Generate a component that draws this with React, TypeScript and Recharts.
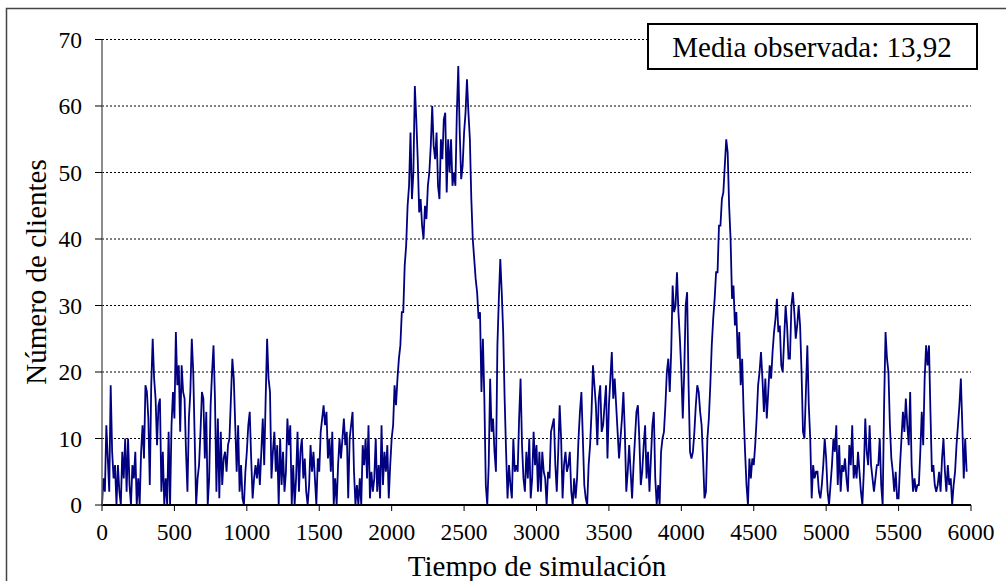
import React from 'react';
import { LineChart, Line, XAxis, YAxis, CartesianGrid, Customized } from 'recharts';

// Simulation time between read samples
const STEP = 10;

// Number of clients, every 10 time units
const clientes0000a0990 = [
  0, 4, 2, 12, 7, 2, 18, 8, 4, 6,
  0, 6, 2, 0, 8, 4, 10, 2, 10, 3,
  0, 6, 4, 8, 0, 4, 0, 8, 12, 7,
  18, 17, 13, 3, 18, 25, 19, 16, 9, 15,
  16, 2, 8, 0, 4, 0, 11, 0, 12, 17,
  13, 26, 18, 21, 11, 21, 17, 16, 8, 2,
  13, 17, 25, 20, 10, 0, 4, 6, 11, 17,
  16, 7, 14, 0, 4, 15, 20, 24, 16, 2,
  13, 1, 11, 3, 7, 8, 5, 9, 10, 16,
  22, 19, 12, 5, 12, 2, 6, 1, 0, 5,
];
const clientes1000a1990 = [
  8, 12, 14, 7, 1, 4, 6, 4, 7, 3,
  8, 13, 6, 16, 25, 19, 17, 4, 8, 11,
  5, 9, 0, 10, 3, 8, 2, 5, 13, 9,
  12, 0, 6, 0, 4, 11, 2, 8, 10, 4,
  7, 2, 0, 3, 9, 5, 8, 4, 0, 7,
  5, 11, 13, 15, 12, 14, 7, 10, 5, 11,
  0, 4, 0, 6, 10, 7, 10, 13, 9, 11,
  1, 10, 12, 14, 5, 0, 3, 0, 4, 0,
  9, 6, 10, 4, 12, 1, 5, 2, 4, 10,
  2, 6, 1, 12, 3, 8, 5, 9, 1, 6,
];
const clientes2000a2990 = [
  10, 12, 18, 15, 19, 22, 24, 29, 29, 36,
  39, 45, 48, 56, 46, 50, 63, 58, 52, 44,
  46, 42, 40, 45, 43, 48, 50, 54, 60, 54,
  52, 56, 48, 46, 55, 52, 58, 59, 47, 55,
  50, 55, 48, 50, 48, 59, 66, 56, 49, 51,
  56, 59, 64, 59, 55, 46, 40, 37, 34, 32,
  28, 29, 17, 25, 16, 3, 0, 6, 19, 11,
  13, 8, 5, 24, 31, 37, 32, 26, 16, 8,
  1, 6, 3, 1, 10, 5, 6, 5, 13, 19,
  9, 4, 2, 8, 4, 10, 1, 4, 11, 6,
];
const clientes3000a3990 = [
  9, 2, 8, 2, 8, 5, 4, 0, 5, 4,
  11, 12, 13, 6, 2, 8, 15, 10, 1, 6,
  8, 5, 6, 8, 2, 0, 4, 1, 4, 10,
  14, 17, 10, 3, 1, 0, 6, 9, 14, 21,
  18, 15, 9, 16, 18, 11, 12, 15, 18, 7,
  15, 19, 23, 16, 19, 15, 11, 7, 10, 13,
  17, 11, 2, 5, 9, 5, 1, 6, 10, 14,
  15, 10, 3, 5, 9, 12, 4, 8, 2, 7,
  12, 14, 4, 0, 3, 0, 8, 10, 11, 15,
  20, 22, 17, 23, 33, 29, 30, 35, 29, 25,
];
const clientes4000a4990 = [
  20, 13, 20, 30, 32, 18, 8, 7, 8, 11,
  15, 18, 17, 14, 12, 7, 1, 2, 10, 13,
  18, 24, 28, 31, 35, 35, 42, 42, 46, 47,
  51, 55, 53, 45, 40, 31, 33, 27, 29, 22,
  26, 18, 22, 14, 8, 3, 0, 7, 4, 7,
  6, 9, 13, 18, 20, 23, 19, 14, 19, 13,
  17, 21, 19, 23, 26, 28, 31, 26, 27, 21,
  20, 25, 30, 27, 22, 22, 30, 32, 29, 25,
  27, 30, 27, 20, 11, 10, 17, 24, 15, 10,
  1, 6, 4, 5, 5, 2, 1, 3, 6, 10,
];
const clientes5000a5970 = [
  7, 2, 0, 3, 6, 10, 8, 12, 3, 9,
  2, 6, 5, 7, 4, 2, 9, 6, 12, 4,
  6, 4, 8, 5, 2, 0, 5, 13, 8, 6,
  12, 6, 4, 2, 4, 6, 6, 10, 3, 0,
  15, 26, 22, 20, 12, 7, 5, 2, 5, 1,
  1, 6, 10, 14, 11, 16, 12, 9, 17, 6,
  2, 4, 2, 3, 3, 8, 14, 9, 19, 24,
  21, 24, 14, 5, 6, 3, 2, 3, 5, 2,
  7, 10, 5, 2, 6, 3, 4, 0, 3, 5,
  9, 12, 15, 19, 12, 4, 10, 5,
];

const xTicks = [0, 500, 1000, 1500, 2000, 2500, 3000, 3500, 4000, 4500, 5000, 5500, 6000];
const yTicks = [0, 10, 20, 30, 40, 50, 60, 70];

const clientes = [
  ...clientes0000a0990,
  ...clientes1000a1990,
  ...clientes2000a2990,
  ...clientes3000a3990,
  ...clientes4000a4990,
  ...clientes5000a5970,
];
const data = clientes.map((v, i) => ({ tiempo: i * STEP, clientes: v }));

const FONT = '"Liberation Serif", "Times New Roman", serif';

const Decor = () => (
  <g>
    <rect x={6.5} y={8.5} width={1200} height={800} fill="none" stroke="#444" strokeWidth={1.5} />
    <text x={537} y={576} textAnchor="middle" fontFamily={FONT} fontSize={29} fill="#000">
      Tiempo de simulación
    </text>
    <text
      x={0}
      y={0}
      transform="translate(46 272) rotate(-90)"
      textAnchor="middle"
      fontFamily={FONT}
      fontSize={29}
      fill="#000"
    >
      Número de clientes
    </text>
    <rect x={648} y={24} width={329} height={45} fill="#fff" stroke="#000" strokeWidth={2} />
    <text x={812} y={57} textAnchor="middle" fontFamily={FONT} fontSize={29} fill="#000">
      Media observada: 13,92
    </text>
  </g>
);

export default function App() {
  return (
    <div style={{ position: 'absolute', left: 0, top: 0, width: 1006, height: 581, background: '#fff', overflow: 'hidden' }}>
      <LineChart
        width={1006}
        height={581}
        data={data}
        margin={{ top: 39.5, right: 35, bottom: 46, left: 42 }}
      >
        <CartesianGrid vertical={false} stroke="#000" strokeDasharray="2 2" />
        <XAxis
          type="number"
          dataKey="tiempo"
          domain={[0, 6000]}
          ticks={xTicks}
          interval={0}
          height={30}
          tickSize={6}
          tickMargin={12}
          axisLine={{ stroke: '#000', strokeWidth: 2 }}
          tickLine={{ stroke: '#000' }}
          tick={{ fill: '#000', fontSize: 23.5, fontFamily: FONT }}
        />
        <YAxis
          type="number"
          domain={[0, 70]}
          ticks={yTicks}
          interval={0}
          width={60}
          tickSize={7}
          tickMargin={13}
          axisLine={{ stroke: '#666', strokeWidth: 1.5 }}
          tickLine={{ stroke: '#000' }}
          tick={{ fill: '#000', fontSize: 23.5, fontFamily: FONT }}
        />
        <Line
          type="linear"
          dataKey="clientes"
          stroke="#000080"
          strokeWidth={1.8}
          dot={false}
          isAnimationActive={false}
        />
        <Customized component={Decor} />
      </LineChart>
    </div>
  );
}
